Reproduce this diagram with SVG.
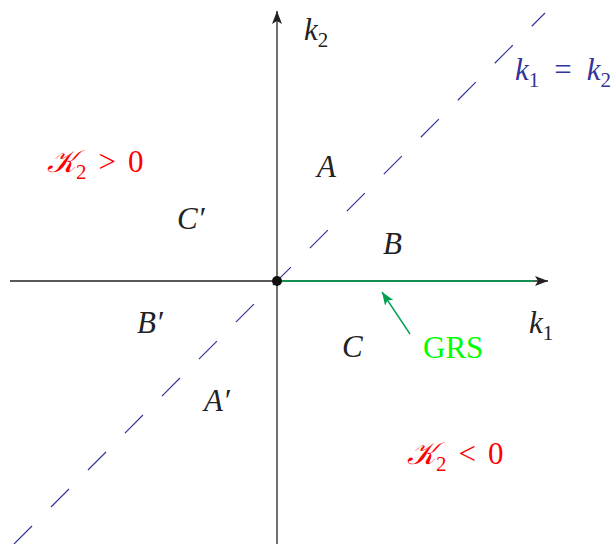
<svg xmlns="http://www.w3.org/2000/svg" width="614" height="544" viewBox="0 0 614 544">
<style>
.m{font-family:"Liberation Serif","Times New Roman",Tinos,"DejaVu Serif","Noto Serif",serif;font-style:italic;font-size:31px;fill:#222}
.s{font-size:21px;font-style:normal}
.r{font-family:"Liberation Serif","Times New Roman",Tinos,"DejaVu Serif",serif;font-size:31px;fill:#ff0000}
.g{font-family:"Liberation Serif","Times New Roman",Tinos,"DejaVu Serif",serif;font-size:31px;fill:#00ff00}
.b{fill:#333399}
.ax{stroke:#222;stroke-width:1.3;fill:none}
</style>
<defs>
<marker id="ah" markerWidth="14" markerHeight="10" refX="13" refY="5" orient="auto" markerUnits="userSpaceOnUse">
<path d="M0,0 L13,5 L0,10 L3,5 Z" fill="#222"/>
</marker>
<marker id="gh" markerWidth="14" markerHeight="10" refX="13" refY="5" orient="auto" markerUnits="userSpaceOnUse">
<path d="M0,0 L13,5 L0,10 L3,5 Z" fill="#00a050"/>
</marker>
</defs>
<g id="connectors">
<line class="ax" x1="10" y1="281" x2="548" y2="281" marker-end="url(#ah)"/>
<line class="ax" x1="277" y1="544" x2="277" y2="11" marker-end="url(#ah)"/>
<line x1="277" y1="281" x2="533" y2="281" stroke="#00a050" stroke-width="1.6"/>
<line x1="14" y1="544" x2="545" y2="13" stroke="#333399" stroke-width="1.2" stroke-dasharray="25.5 26.8" stroke-dashoffset="0"/>
<line x1="410" y1="334" x2="382" y2="292" stroke="#00a050" stroke-width="1.4" marker-end="url(#gh)"/>
</g>
<g id="origin"><circle cx="277" cy="281" r="5" fill="#111"/></g>
<g id="labels">
<text class="m" x="304" y="40">k<tspan class="s" dy="7">2</tspan></text>
<text class="m b" x="515" y="80">k<tspan class="s" dy="7">1</tspan><tspan dx="15" dy="-7" font-style="normal">=</tspan><tspan dx="15">k</tspan><tspan class="s" dy="7">2</tspan></text>
<text class="m" x="529" y="333">k<tspan class="s" dy="7">1</tspan></text>
<text class="m" x="317" y="177">A</text>
<text class="m" x="383" y="254">B</text>
<text class="m" x="342" y="357">C</text>
<text class="m" x="177" y="229">C′</text>
<text class="m" x="137" y="333">B′</text>
<text class="m" x="204" y="411">A′</text>
<text class="g" x="423" y="358">GRS</text>
<text class="r" x="47" y="172"><tspan font-family="DejaVu Serif, serif" font-style="italic">𝒦</tspan><tspan font-size="21" dy="7">2</tspan><tspan dx="12" dy="-7">&gt;</tspan><tspan dx="12">0</tspan></text>
<text class="r" x="407" y="464"><tspan font-family="DejaVu Serif, serif" font-style="italic">𝒦</tspan><tspan font-size="21" dy="7">2</tspan><tspan dx="12" dy="-7">&lt;</tspan><tspan dx="12">0</tspan></text>
</g>
</svg>
